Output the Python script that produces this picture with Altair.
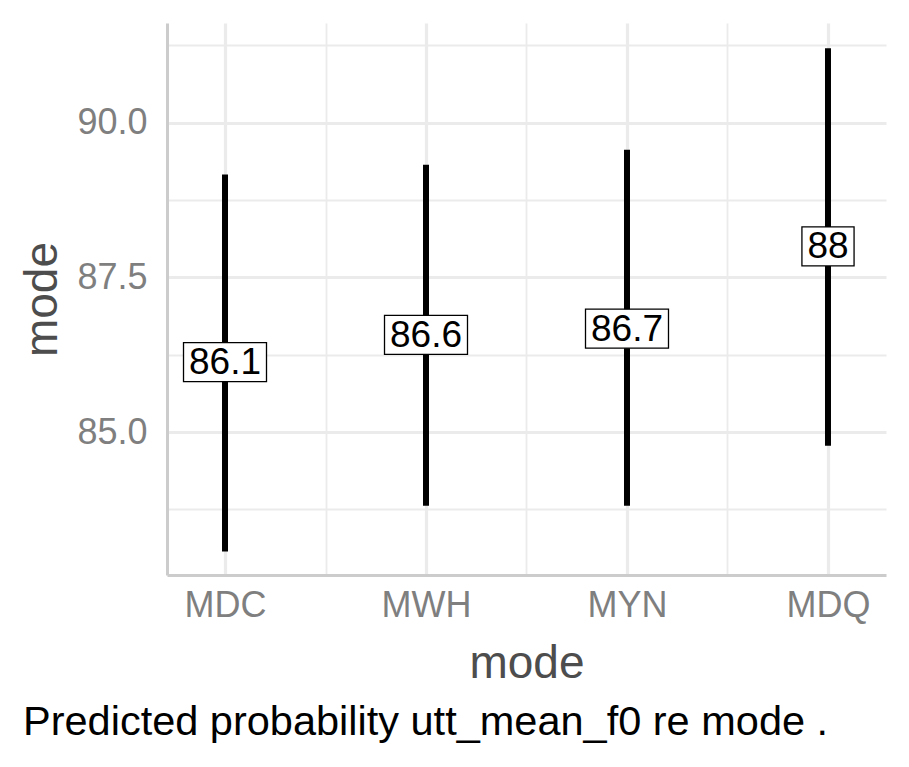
import altair as alt
import pandas as pd

# ---- data ----
categories = ["MDC", "MWH", "MYN", "MDQ"]
estimates = [86.13, 86.57, 86.67, 88.00]
lower = [83.07, 83.81, 83.81, 84.78]
upper = [89.16, 89.32, 89.56, 91.20]
labels = ["86.1", "86.6", "86.7", "88"]

y_major = [85.0, 87.5, 90.0]
y_grid = [83.75, 85.0, 86.25, 87.5, 88.75, 90.0, 91.25]
caption = "Predicted probability utt_mean_f0 re mode ."

FONT = "Liberation Sans"
LABEL_FS = 37
BOX_H = 39

def box_path(text):
    # white label box: width from text length, fixed height
    w = sum(0.556 if ch.isdigit() else 0.278 for ch in text) * LABEL_FS + 11
    h = w / BOX_H
    return f"M{-h:.3f},-1L{h:.3f},-1L{h:.3f},1L{-h:.3f},1Z"

df = pd.DataFrame({
    "idx": list(range(len(categories))),
    "mode": categories,
    "est": estimates,
    "lo": lower,
    "hi": upper,
    "label": labels,
    "shape": [box_path(t) for t in labels],
})

n = len(categories)
pad = 0.2886
x_scale = alt.Scale(domain=[-pad, n - 1 + pad], nice=False, zero=False)
y_scale = alt.Scale(domain=[82.69, 91.61], nice=False, zero=False)

cat_js = "[" + ",".join(f"'{c}'" for c in categories) + "]"
x_vals = [i / 2 for i in range(0, 2 * (n - 1) + 1)]

x_axis = alt.Axis(
    values=x_vals,
    labelExpr=f"datum.value % 1 == 0 ? {cat_js}[datum.value] : ''",
    title="mode",
    grid=True,
    gridColor="#ebebeb",
    gridWidth={"condition": {"test": "datum.value % 1 != 0", "value": 1.8}, "value": 3.2},
    ticks=False, tickSize=0,
    domain=True, domainColor="#cccccc", domainWidth=3,
    labelFontSize=36, labelColor="#7f7f7f", labelFont=FONT, labelPadding=13,
    titleFontSize=46, titleColor="#4d4d4d", titleFont=FONT, titleFontWeight="normal",
    titleBaseline="alphabetic", titleY=102,
    labelFlush=False, labelOverlap=False,
)
y_axis = alt.Axis(
    values=y_grid,
    labelExpr="datum.value % 2.5 == 0 ? format(datum.value, '.1f') : ''",
    title="mode",
    grid=True,
    gridColor="#ebebeb",
    gridWidth={"condition": {"test": "datum.value % 2.5 != 0", "value": 1.8}, "value": 3.2},
    ticks=False, tickSize=0,
    domain=True, domainColor="#cccccc", domainWidth=3,
    labelFontSize=36, labelColor="#7f7f7f", labelFont=FONT, labelPadding=20,
    titleFontSize=46, titleColor="#4d4d4d", titleFont=FONT, titleFontWeight="normal",
    titleAngle=270, titleBaseline="alphabetic", titleX=-111, titleY=276,
    labelFlush=False, labelOverlap=False,
)

base = alt.Chart(df)

bars = base.mark_rule(color="black", strokeWidth=6).encode(
    x=alt.X("idx:Q", scale=x_scale, axis=x_axis),
    y=alt.Y("lo:Q", scale=y_scale, axis=y_axis),
    y2="hi:Q",
)

boxes = base.mark_point(filled=True, fill="white", stroke="black", strokeWidth=1.3,
                        opacity=1, size=BOX_H * BOX_H).encode(
    x=alt.X("idx:Q", scale=x_scale),
    y=alt.Y("est:Q", scale=y_scale),
    shape=alt.Shape("shape:N", scale=None),
)

texts = base.mark_text(font=FONT, fontSize=LABEL_FS, color="black",
                       align="center", baseline="middle", dy=1).encode(
    x=alt.X("idx:Q", scale=x_scale),
    y=alt.Y("est:Q", scale=y_scale),
    text="label:N",
)

chart = alt.layer(bars, boxes, texts).properties(
    width=719,
    height=552,
    autosize=alt.AutoSizeParams(type="none"),
    padding={"left": 159, "top": 15, "right": 15, "bottom": 184},
    background="white",
    title=alt.TitleParams(
        text=caption, orient="bottom", anchor="start", frame="group",
        fontSize=41.5, font=FONT, fontWeight="normal", color="black",
        dx=-144, offset=16, baseline="top",
    ),
).configure_view(stroke=None)

chart.save("out.html", embed_options={"renderer": "svg", "actions": False})
